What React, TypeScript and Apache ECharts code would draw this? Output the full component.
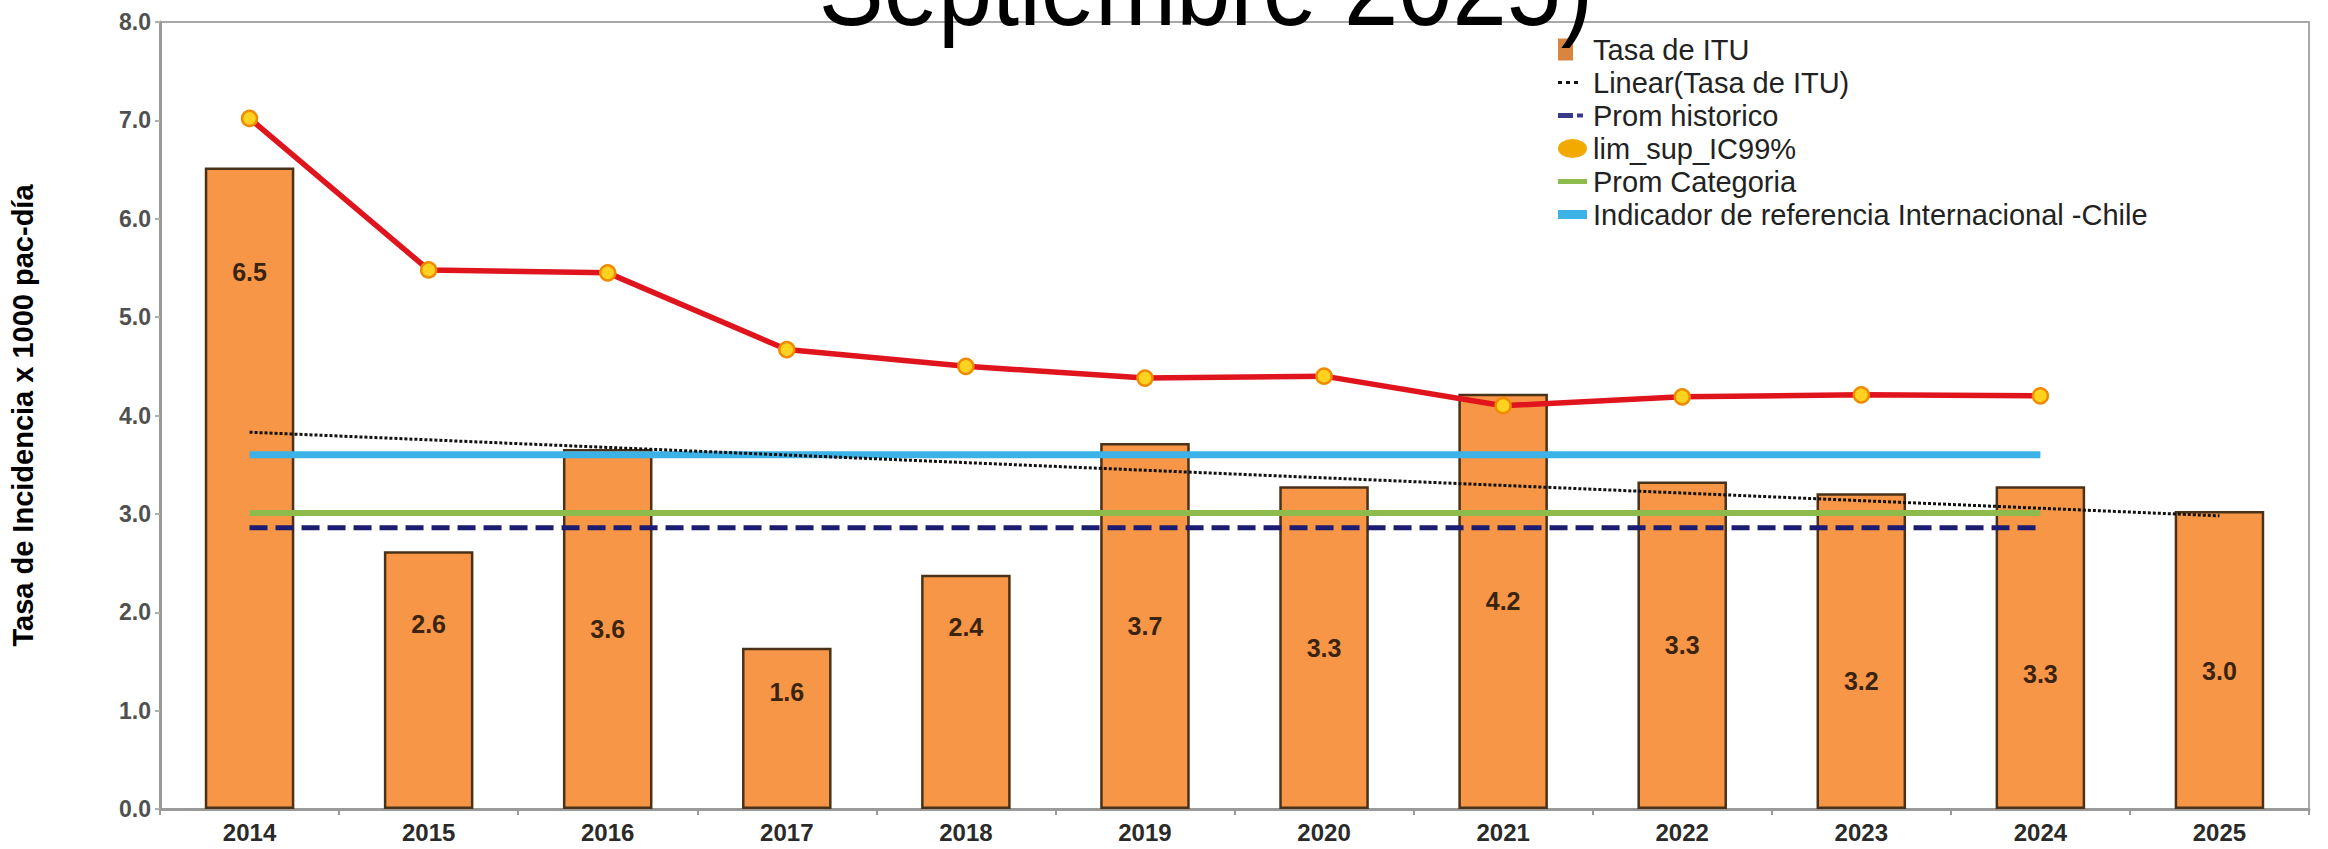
import React, { useEffect, useRef } from "react";
import * as echarts from "echarts";

const years = ["2014", "2015", "2016", "2017", "2018", "2019", "2020", "2021", "2022", "2023", "2024", "2025"];
const tasaITU = [6.52, 2.62, 3.66, 1.64, 2.38, 3.72, 3.28, 4.22, 3.33, 3.21, 3.28, 3.03];
const tasaLabels = ["6.5", "2.6", "3.6", "1.6", "2.4", "3.7", "3.3", "4.2", "3.3", "3.2", "3.3", "3.0"];
const limSup = [7.02, 5.48, 5.45, 4.67, 4.5, 4.38, 4.4, 4.1, 4.19, 4.21, 4.2, null];
const linearTrend = [3.83, null, null, null, null, null, null, null, null, null, null, 2.98];
const promHistorico = [2.86, 2.86, 2.86, 2.86, 2.86, 2.86, 2.86, 2.86, 2.86, 2.86, 2.86, null];
const promCategoria = [3.01, 3.01, 3.01, 3.01, 3.01, 3.01, 3.01, 3.01, 3.01, 3.01, 3.01, null];
const indicadorChile = [3.6, 3.6, 3.6, 3.6, 3.6, 3.6, 3.6, 3.6, 3.6, 3.6, 3.6, null];
const yTicks = [0, 1, 2, 3, 4, 5, 6, 7, 8];
const titleText = "Septiembre 2025)";
const yAxisName = "Tasa de Incidencia x 1000 pac-día";
const seriesNames = [
  "Tasa de ITU",
  "Linear(Tasa de ITU)",
  "Prom historico",
  "lim_sup_IC99%",
  "Prom Categoria",
  "Indicador de referencia Internacional -Chile",
];

// legend icon shapes (30x22 box; tiny corner marks fix the box)
const box = " M0,0h0.02v0.02h-0.02z M29.98,21.98h0.02v0.02h-0.02z";
const iconBar = "path://M0,0h15v22h-15z" + box;
const iconDots = "path://M0,9.5h4v3h-4z M8,9.5h4v3h-4z M16,9.5h4v3h-4z" + box;
const iconDashDot = "path://M0,8.5h15v5h-15z M19,9h6v4h-6z" + box;
const iconEllipse = "path://M0,11a14.5,9.5 0 1,0 29,0a14.5,9.5 0 1,0 -29,0z" + box;
const iconGreen = "path://M0,8.5h29v5h-29z" + box;
const iconBlue = "path://M0,6.5h29v9h-29z" + box;

// label placement inside the bars (style only)
const labelPlacement: Record<number, number> = { 0: 92, 1: 60, 3: 32, 4: 40, 9: 175, 10: 175, 11: 148 };

export default function App() {
  const ref = useRef<HTMLDivElement>(null);
  useEffect(() => {
    document.body.style.margin = "0";
    if (!ref.current) return;
    const chart = echarts.init(ref.current, undefined, { renderer: "svg" });
    const sans = "'Liberation Sans', Arial, sans-serif";
    chart.setOption({
      animation: false,
      backgroundColor: "#ffffff",
      grid: {
        left: 156,
        right: 19,
        top: 22,
        bottom: 40,
        show: true,
        borderColor: "#a8a8a8",
        borderWidth: 2,
      },
      graphic: [
        {
          type: "text",
          x: 1206,
          y: -14,
          scaleX: 0.87,
          z: 100,
          style: {
            text: titleText,
            fontFamily: "'Liberation Sans', Arial, sans-serif",
            fontSize: 112,
            fontWeight: "normal",
            fill: "#000",
            align: "center",
            verticalAlign: "middle",
          },
        },
      ],
      legend: {
        orient: "vertical",
        left: 1553,
        top: 30,
        itemWidth: 30,
        itemHeight: 22,
        itemGap: 4,
        symbolKeepAspect: true,
        itemStyle: { borderWidth: 0 },
        textStyle: { fontFamily: sans, fontSize: 29, color: "#222", lineHeight: 29 },
        data: [
          { name: seriesNames[0], icon: iconBar, itemStyle: { color: "#D9853F" } },
          { name: seriesNames[1], icon: iconDots },
          { name: seriesNames[2], icon: iconDashDot, itemStyle: { color: "#3a3a8a" } },
          { name: seriesNames[3], icon: iconEllipse, itemStyle: { color: "#F2A900" } },
          { name: seriesNames[4], icon: iconGreen },
          { name: seriesNames[5], icon: iconBlue },
        ],
      },
      xAxis: {
        type: "category",
        data: years,
        boundaryGap: true,
        axisLine: { lineStyle: { color: "#9a9a9a", width: 3 } },
        axisTick: { show: true, length: 6, lineStyle: { color: "#9a9a9a", width: 2 } },
        axisLabel: { fontFamily: sans, fontSize: 24, fontWeight: "bold", color: "#2a2a2a", margin: 11 },
      },
      yAxis: {
        type: "value",
        min: 0,
        max: 8,
        interval: 1,
        name: yAxisName,
        nameLocation: "middle",
        nameGap: 123,
        nameTextStyle: { fontFamily: sans, fontSize: 29, fontWeight: "bold", color: "#000" },
        axisLine: { show: true, lineStyle: { color: "#9a9a9a", width: 3 } },
        axisTick: { show: true, length: 5, lineStyle: { color: "#b0b0b0", width: 2 } },
        splitLine: { show: false },
        axisLabel: {
          fontFamily: sans,
          fontSize: 23,
          fontWeight: "bold",
          color: "#505050",
          margin: 9,
          formatter: (v: number) => (yTicks.includes(v) ? v.toFixed(1) : ""),
        },
      },
      series: [
        {
          name: seriesNames[0],
          type: "bar",
          barWidth: "50%",
          z: 1,
          itemStyle: { color: "#F79646", borderColor: "#4a3218", borderWidth: 2.5 },
          label: {
            show: true,
            position: "inside",
            fontFamily: sans,
            fontSize: 25,
            fontWeight: "bold",
            color: "#3a2410",
            formatter: (p: any) => tasaLabels[p.dataIndex],
          },
          data: tasaITU.map((v, i) =>
            labelPlacement[i] !== undefined
              ? { value: v, label: { position: "insideTop", distance: labelPlacement[i] } }
              : v
          ),
        },
        {
          name: seriesNames[1],
          type: "line",
          z: 5,
          symbol: "none",
          connectNulls: true,
          lineStyle: { color: "#111", width: 3, type: [3, 2] },
          itemStyle: { color: "#111" },
          data: linearTrend,
        },
        {
          name: seriesNames[2],
          type: "line",
          z: 4,
          symbol: "none",
          lineStyle: { color: "#1c1c72", width: 5, type: [18, 8] },
          itemStyle: { color: "#1c1c72" },
          data: promHistorico,
        },
        {
          name: seriesNames[3],
          type: "line",
          z: 6,
          symbol: "circle",
          symbolSize: 15,
          lineStyle: { color: "#E0141C", width: 5.5 },
          itemStyle: { color: "#FFD21F", borderColor: "#F08A00", borderWidth: 2.5 },
          data: limSup,
        },
        {
          name: seriesNames[4],
          type: "line",
          z: 3,
          symbol: "none",
          lineStyle: { color: "#8DBB4C", width: 6 },
          itemStyle: { color: "#8DBB4C" },
          data: promCategoria,
        },
        {
          name: seriesNames[5],
          type: "line",
          z: 3,
          symbol: "none",
          lineStyle: { color: "#3DB2E6", width: 7 },
          itemStyle: { color: "#3DB2E6" },
          data: indicadorChile,
        },
      ],
    });
    return () => chart.dispose();
  }, []);
  return <div ref={ref} style={{ width: 2328, height: 849 }} />;
}
